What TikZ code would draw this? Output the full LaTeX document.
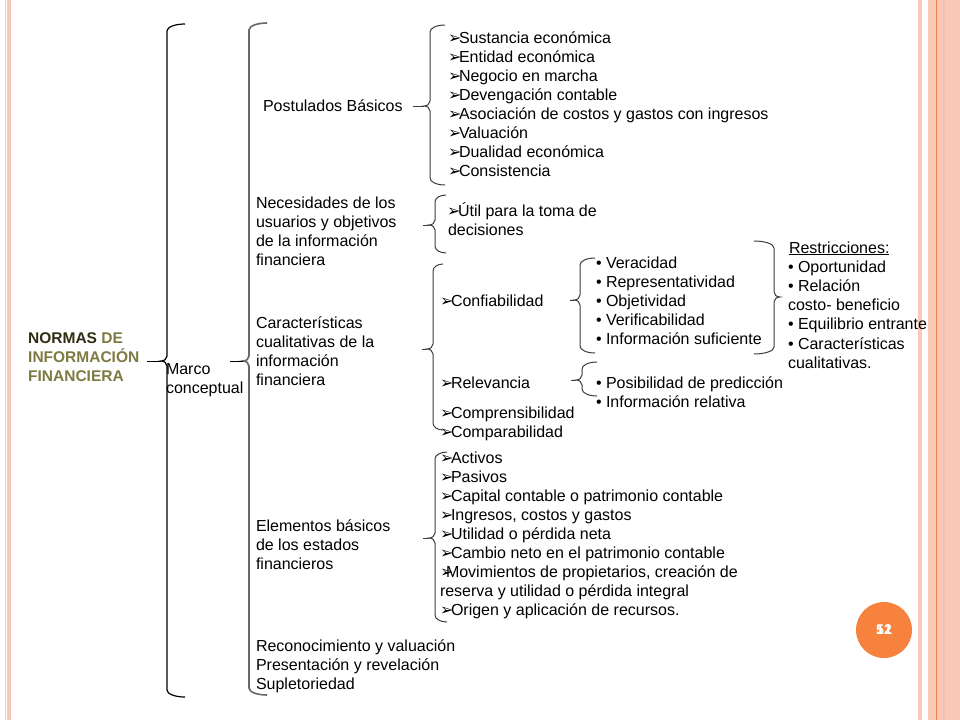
\documentclass[tikz,border=0pt]{standalone}
\usepackage{fontspec}
\setmainfont{Liberation Sans}
\newfontfamily\djv{DejaVu Sans}
\definecolor{stripe}{RGB}{250,200,182}
\definecolor{stripeb}{RGB}{246,190,170}
\definecolor{stripedark}{RGB}{232,130,80}
\definecolor{pgorange}{RGB}{246,130,62}
\definecolor{normdark}{RGB}{48,46,18}
\definecolor{normol}{RGB}{125,122,66}
\definecolor{brgray}{RGB}{60,60,60}
\definecolor{brmid}{RGB}{105,105,105}
\newcommand\fs{\fontsize{16}{19}\selectfont}
\newcommand\arr{\makebox[11pt][l]{\djv\fontsize{16}{16}\selectfont ➢}}
\newcommand{\brL}[7]{%
 \draw[#7] (#2+#6,#3) .. controls (#2+0.45*#6,#3) and (#2,#3+3) .. (#2,#3+7)
 -- (#2,#4-5) .. controls (#2,#4-2.2) and (#2-2.7,#4) .. (#2-6,#4) coordinate (#1)
 .. controls (#2-2.7,#4) and (#2,#4+2.2) .. (#2,#4+5)
 -- (#2,#5-7) .. controls (#2,#5-3) and (#2+0.45*#6,#5) .. (#2+#6,#5);}
\newcommand{\brR}[7]{%
 \draw[#7] (#2-#6,#3) .. controls (#2-0.45*#6,#3) and (#2,#3+3) .. (#2,#3+7)
 -- (#2,#4-5) .. controls (#2,#4-2.2) and (#2+2.7,#4) .. (#2+6,#4) coordinate (#1)
 .. controls (#2+2.7,#4) and (#2,#4+2.2) .. (#2,#4+5)
 -- (#2,#5-7) .. controls (#2,#5-3) and (#2-0.45*#6,#5) .. (#2-#6,#5);}
\tikzset{
 txt/.style={anchor=base west, inner sep=0pt, outer sep=0pt, font=\fs, text=black},
 nf/.style={anchor=base west, inner sep=0pt, font=\bfseries\fontsize{15.5}{18}\selectfont},
 brc/.style={draw=brgray, line width=1pt},
 conn/.style={draw=brgray, line width=1pt},
 bigA/.style={draw=black, line width=1.2pt},
 bigB/.style={draw=brmid, line width=1.6pt},
}
\begin{document}
\begin{tikzpicture}[x=1pt,y=-1pt]
\useasboundingbox (0,0) rectangle (960,720);
\fill[white] (0,0) rectangle (960,720);
% stripes
\fill[stripe] (4.7,0) rectangle (11,720);
\fill[white] (5.8,0) rectangle (6.8,720);
\fill[stripe] (917.5,0) rectangle (922,720);
\fill[stripe] (927.5,0) rectangle (960,720);
\fill[stripeb] (943,0) rectangle (945,720);
\fill[stripedark] (935.6,0) rectangle (936.8,720);

% title
\node[nf, text=normdark] (n1) at (28,343) {NORMAS {\color{normol}DE}};
\node[nf, text=normol] (n2) at (28,362.5) {INFORMACIÓN};
\node[nf, text=normol] (n3) at (28,381) {FINANCIERA};

% big brackets
\brL{t1}{167}{24}{361}{697}{18}{bigA}
\brL{t2}{249}{23}{361}{695}{18}{bigB}
\coordinate (c1) at (147,361);
\coordinate (c2) at (230,361);
\draw[bigA,line width=1pt] (c1) -- (t1);
\draw[bigA,line width=1pt] (c2) -- (t2);

\node[txt] (mc1) at (166,374) {Marco};
\node[txt] (mc2) at (166,393) {conceptual};

% level 2 labels
\node[txt] (pbas) at (263,111) {Postulados Básicos};
\foreach \t [count=\i from 0] in {Necesidades de los, usuarios y objetivos, de la información, financiera}
  \node[txt] (nec\i) at (256,208+19*\i) {\t};
\foreach \t [count=\i from 0] in {Características, cualitativas de la, información, financiera}
  \node[txt] (car\i) at (256,328+19*\i) {\t};
\foreach \t [count=\i from 0] in {Elementos básicos, de los estados, financieros}
  \node[txt] (ele\i) at (256,531+19*\i) {\t};
\foreach \t [count=\i from 0] in {Reconocimiento y valuación, Presentación y revelación, Supletoriedad}
  \node[txt] (rec\i) at (256,651+19*\i) {\t};

% Postulados
\brL{t3}{430}{25}{106}{185}{15}{brc}
\coordinate (c3) at (413,106);
\draw[conn] (c3) -- (t3);
\foreach \t [count=\i from 0] in {Sustancia económica, Entidad económica, Negocio en marcha, Devengación contable, Asociación de costos y gastos con ingresos, Valuación, Dualidad económica, Consistencia}
  \node[txt] (pb\i) at (448,43+19.14*\i) {\arr\t};

% Necesidades
\brL{t4}{435}{195}{225}{253}{11}{brc}
\coordinate (c4) at (423,225);
\draw[conn] (c4) -- (t4);
\node[txt] (util1) at (447,216) {\arr Útil para la toma de};
\node[txt] (util2) at (448,235) {decisiones};

% Caracteristicas
\brL{t5}{433}{264}{349}{430}{10}{brc}
\coordinate (c5) at (422,349);
\draw[conn] (c5) -- (t5);
\node[txt] (conf) at (440,306) {\arr Confiabilidad};
\node[txt] (rel) at (440,388) {\arr Relevancia};
\node[txt] (compr) at (440,418) {\arr Comprensibilidad};
\node[txt] (compa) at (440,437) {\arr Comparabilidad};

\brL{t6}{580}{258}{300}{353}{15}{brc}
\coordinate (c6) at (570,300);
\draw[conn] (c6) -- (t6);
\foreach \t [count=\i from 0] in {Veracidad, Representatividad, Objetividad, Verificabilidad, Información suficiente}
  \node[txt] (cf\i) at (596,268+19*\i) {• \t};

\brL{t7}{582}{362}{380}{396}{15}{brc}
\coordinate (c7) at (571,380);
\draw[conn] (c7) -- (t7);
\node[txt] (rl0) at (596,388) {• Posibilidad de predicción};
\node[txt] (rl1) at (596,407) {• Información relativa};

% Restricciones
\brR{t8}{774}{241}{297}{354}{20}{brc}
\node[txt] (rs0) at (789,253) {\underline{Restricciones:}};
\node[txt] (rs1) at (788,272.5) {• Oportunidad};
\node[txt] (rs2) at (788,291) {• Relación};
\node[txt] (rs3) at (788,310) {costo- beneficio};
\node[txt] (rs4) at (788,329) {• Equilibrio entrante};
\node[txt] (rs5) at (788,349) {• Características};
\node[txt] (rs6) at (788,368) {cualitativas.};

% Elementos
\brL{t9}{435}{452}{538}{622}{12}{brc}
\coordinate (c9) at (423,538);
\draw[conn] (c9) -- (t9);
\foreach \t [count=\i from 0] in {Activos, Pasivos, Capital contable o patrimonio contable, {Ingresos, costos y gastos}, Utilidad o pérdida neta, Cambio neto en el patrimonio contable}
  \node[txt] (el\i) at (440,463+19.1*\i) {\arr\t};
\node[txt] (el6) at (440,463+19.1*6) {\arr\hspace{-5pt}Movimientos de propietarios, creación de};
\node[txt] (el7) at (440,463+19.1*7) {reserva y utilidad o pérdida integral};
\node[txt] (el8) at (440,463+19.1*8) {\arr Origen y aplicación de recursos.};

% page number
\node[circle, fill=pgorange, minimum size=56pt, inner sep=0pt] (pg) at (884,630) {};
\node[font=\bfseries\fontsize{14}{14}\selectfont, text=white, inner sep=0pt] (pgA) at (pg) {51};
\node[font=\bfseries\fontsize{14}{14}\selectfont, text=white, inner sep=0pt] (pgB) at (pg) {12};
\end{tikzpicture}
\end{document}
